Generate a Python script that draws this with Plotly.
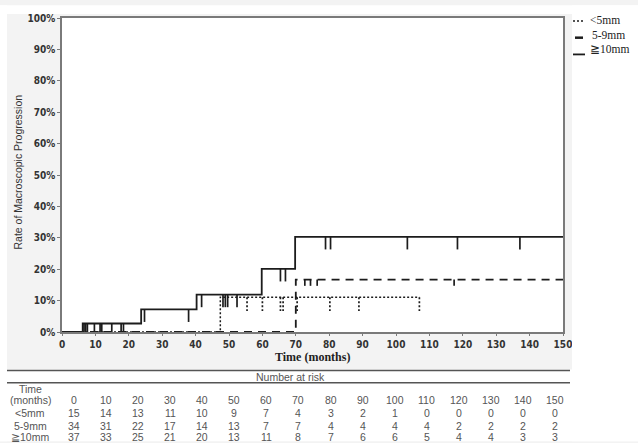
import plotly.graph_objects as go

# ---------------- data ----------------
x_tick_vals = list(range(0, 151, 10))
y_tick_vals = list(range(0, 101, 10))
y_tick_text = [f"{v}%" for v in y_tick_vals]

lt5_event_t = [0, 47.4]
lt5_event_y = [0, 11.1]
lt5_end = 107.0
lt5_censor = [55.4, 60.0, 65.4, 66.2, 70.4, 80.2, 88.9, 107.0]

mid_event_t = [0, 70.0]
mid_event_y = [0, 16.7]
mid_end = 150.0
mid_censor = [72.7, 74.4, 76.4, 117.4]

ge10_event_t = [0, 6.2, 23.7, 40.3, 59.8, 69.8]
ge10_event_y = [0, 2.7, 7.2, 11.9, 20.1, 30.3]
ge10_end = 150.0
ge10_censor = [6.6, 7.1, 7.6, 9.7, 11.4, 11.9, 14.9, 17.7, 18.4, 24.7, 37.9,
               41.8, 48.2, 48.9, 49.6, 52.4, 65.4, 66.9, 78.9, 80.4, 103.4,
               118.4, 137.1]

series_names = ["<5mm", "5-9mm", "≧10mm"]
risk_times = [0, 10, 20, 30, 40, 50, 60, 70, 80, 90, 100, 110, 120, 130, 140, 150]
risk_lt5 = [15, 14, 13, 11, 10, 9, 7, 4, 3, 2, 1, 0, 0, 0, 0, 0]
risk_mid = [34, 31, 22, 17, 14, 13, 7, 7, 4, 4, 4, 4, 2, 2, 2, 2]
risk_ge10 = [37, 33, 25, 21, 20, 13, 11, 8, 7, 6, 6, 5, 4, 4, 3, 3]

# ---------------- geometry helpers ----------------
W, H = 638, 443
L, R, T, B = 62, 75, 13, 111
PW, PH = W - L - R, H - T - B


def px(xp):
    return (xp - L) / PW


def py(yp):
    return (H - B - yp) / PH


LINE = "#1c1c1c"


def step_xy(ts, ys, end):
    return list(ts) + [end], list(ys) + [ys[-1]]


def level_at(ts, ys, t):
    lv = ys[0]
    for a, b in zip(ts, ys):
        if a <= t:
            lv = b
    return lv


def censor_xy(ts, ys, cens, length):
    xs, yv = [], []
    for c in cens:
        lv = level_at(ts, ys, c)
        xs += [c, c, None]
        yv += [lv, max(lv - length, 0), None]
    return xs, yv


fig = go.Figure()

specs = [
    (lt5_event_t, lt5_event_y, lt5_end, lt5_censor, "2px,2px", 1.5, 4.4, "2px,2px"),
    (mid_event_t, mid_event_y, mid_end, mid_censor, "8px,6px", 1.8, 2.0, "solid"),
    (ge10_event_t, ge10_event_y, ge10_end, ge10_censor, "solid", 1.8, 4.0, "solid"),
]
for name, (ts, ys, end, cens, dash, w, tl, tdash) in zip(series_names, specs):
    sx, sy = step_xy(ts, ys, end)
    fig.add_trace(go.Scatter(x=sx, y=sy, mode="lines", name=name,
                             line=dict(color=LINE, width=w, dash=dash, shape="hv"),
                             showlegend=False, hoverinfo="skip"))
    cx, cy = censor_xy(ts, ys, cens, tl)
    fig.add_trace(go.Scatter(x=cx, y=cy, mode="lines",
                             line=dict(color=LINE, width=1.7, dash=tdash),
                             showlegend=False, hoverinfo="skip"))

tickfont = dict(family="DejaVu Sans Condensed, DejaVu Sans", size=10,
                color="#333333", weight="bold")
fig.update_xaxes(range=[0, 150], tickvals=x_tick_vals, showgrid=False, zeroline=False,
                 showline=True, mirror=True, linecolor="#7a7a7a", linewidth=1.5,
                 ticks="outside", ticklen=2, tickcolor="#7a7a7a", tickfont=tickfont)
fig.update_yaxes(range=[0, 100], tickvals=y_tick_vals, ticktext=y_tick_text,
                 showgrid=False, zeroline=False, showline=True, mirror=True,
                 linecolor="#7a7a7a", linewidth=1.5, ticks="outside", ticklen=3,
                 tickcolor="#7a7a7a", tickfont=tickfont)

shapes = []
# white areas outside the grey chart panel
for x0, y0, x1, y1 in [(572, 0, W, H), (0, 0, W, 9), (0, 0, 7, H), (0, 370, W, H)]:
    shapes.append(dict(type="rect", xref="paper", yref="paper", layer="above",
                       x0=px(x0), x1=px(x1), y0=py(y0), y1=py(y1),
                       fillcolor="white", line=dict(width=0)))
# table rules
for yl in [371, 383.5]:
    shapes.append(dict(type="line", xref="paper", yref="paper", layer="above",
                       x0=px(7), x1=px(570), y0=py(yl), y1=py(yl),
                       line=dict(color="#555555", width=1.5)))
# legend keys
leg_keys = [(573, 584, 16, "2px,2px", 1.5), (575, 583, 33, "solid", 2.5),
            (573, 585, 50, "solid", 1.8)]
for x0, x1, yl, dash, w in leg_keys:
    shapes.append(dict(type="line", xref="paper", yref="paper", layer="above",
                       x0=px(x0), x1=px(x1), y0=py(yl), y1=py(yl),
                       line=dict(color=LINE, width=w, dash=dash)))

ann = []
serif = "Liberation Serif, DejaVu Serif, serif"
sans = "Liberation Sans, Arial, sans-serif"
leg_text_pos = [(588, 15), (590, 30), (588, 44)]
for name, (xl, yl) in zip(series_names, leg_text_pos):
    ann.append(dict(text=name.replace("<", "&lt;"), xref="paper", yref="paper",
                    x=px(xl), y=py(yl), xanchor="left", yanchor="middle",
                    showarrow=False, font=dict(family=serif, size=11.5, color="#222")))

ann.append(dict(text="Rate of Macroscopic Progression", xref="paper", yref="paper",
                x=px(18), y=py(170), textangle=-90, showarrow=False,
                xanchor="center", yanchor="middle",
                font=dict(family=sans, size=10.5, color="#333")))
ann.append(dict(text="<b>Time (months)</b>", xref="paper", yref="paper",
                x=px(312), y=py(357.5), showarrow=False, xanchor="center",
                yanchor="middle", font=dict(family=serif, size=12, color="#222")))

tfont = dict(family=sans, size=10.5, color="#555")
ann.append(dict(text="Number at risk", xref="paper", yref="paper", x=px(290), y=py(377.5),
                showarrow=False, xanchor="center", yanchor="middle", font=tfont))
ann.append(dict(text="Time", xref="paper", yref="paper", x=px(30), y=py(390),
                showarrow=False, xanchor="center", yanchor="middle", font=tfont))

col0, col_step = 74, (555 - 74) / 150.0
rows = [("(months)", risk_times, 401), (series_names[0], risk_lt5, 414),
        (series_names[1], risk_mid, 427), (series_names[2], risk_ge10, 439)]
for label, vals, yr in rows:
    ann.append(dict(text=label.replace("<", "&lt;"), xref="paper", yref="paper",
                    x=px(30), y=py(yr), showarrow=False, xanchor="center",
                    yanchor="middle", font=tfont))
    for t, v in zip(risk_times, vals):
        ann.append(dict(text=str(v), xref="paper", yref="paper",
                        x=px(col0 + t * col_step), y=py(yr), showarrow=False,
                        xanchor="center", yanchor="middle", font=tfont))

fig.update_layout(width=W, height=H, margin=dict(l=L, r=R, t=T, b=B),
                  paper_bgcolor="#f3f3f3", plot_bgcolor="white",
                  shapes=shapes, annotations=ann, showlegend=False)

fig.write_html("out.html", config={"displayModeBar": False},
               post_script="document.body.style.margin='0px';"
                           "document.body.style.padding='0px';"
                           "document.body.style.overflow='hidden';")
